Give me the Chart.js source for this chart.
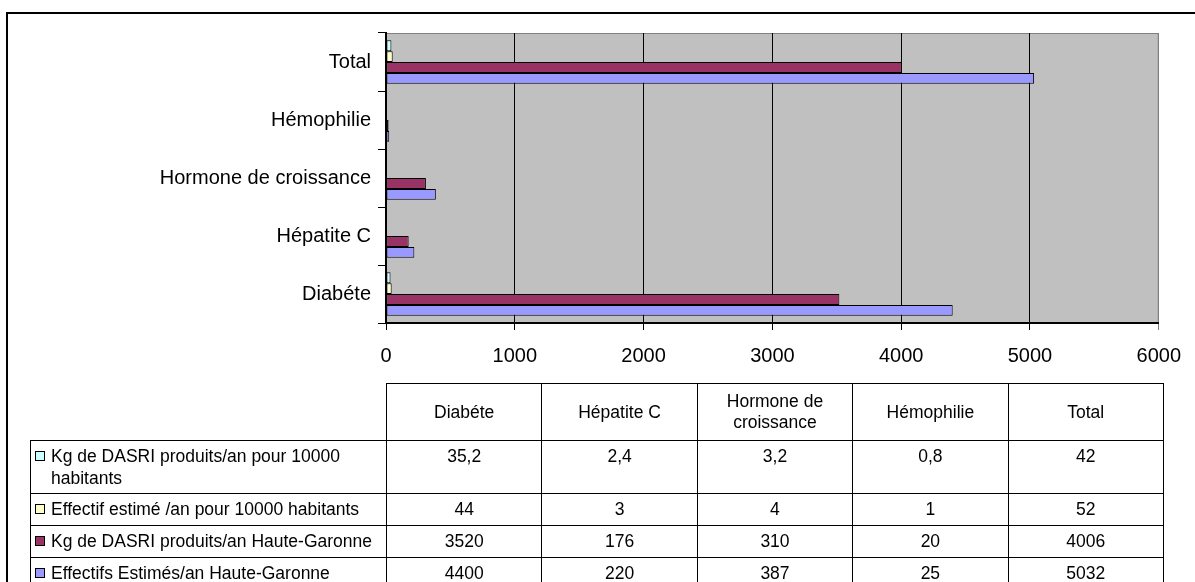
<!DOCTYPE html>
<html>
<head>
<meta charset="utf-8">
<script src="https://cdn.jsdelivr.net/npm/chart.js@4/dist/chart.umd.min.js"></script>
<style>
  html, body { margin: 0; padding: 0; background: #fff; overflow: hidden; }
  body { width: 1195px; height: 582px; position: relative; font-family: "Liberation Sans", Arial, sans-serif; }
  #frame { position: absolute; left: 6px; top: 12px; width: 1300px; height: 700px; border: 2px solid #000; box-sizing: border-box; }
  #wrap { position: absolute; left: 0; top: 0; width: 1195px; height: 582px; }
  #datatable { position: absolute; left: 30px; top: 383px; width: 1133px; border-collapse: collapse; table-layout: fixed; font-size: 17.5px; color: #000; }
  #datatable td, #datatable th { border: 1px solid #000; font-weight: normal; padding: 0; }
  #datatable th { height: 56px; text-align: center; vertical-align: middle; line-height: 21px; }
  #datatable th.blank { border: none; }
  #datatable td { text-align: center; vertical-align: top; padding-top: 4px; line-height: 22px; }
  #datatable td.name { text-align: left; position: relative; padding-left: 20px; }
  .box { position: absolute; left: 4px; top: 10px; width: 8px; height: 8px; border: 1px solid #000; }
</style>
</head>
<body>
<div id="frame"></div>
<div id="wrap"><canvas id="chart"></canvas></div>
<table id="datatable"></table>
<script>
// categories, bottom to top on the chart
const categories = ['Diabéte', 'Hépatite C', 'Hormone de croissance', 'Hémophilie', 'Total'];

const seriesNames = [
  'Kg de DASRI produits/an pour 10000 habitants',
  'Effectif estimé /an pour 10000 habitants',
  'Kg de DASRI produits/an Haute-Garonne',
  'Effectifs Estimés/an Haute-Garonne'
];
const kgPer10000 = [35.2, 2.4, 3.2, 0.8, 42];
const effectifPer10000 = [44, 3, 4, 1, 52];
const kgHauteGaronne = [3520, 176, 310, 20, 4006];
const effectifsHauteGaronne = [4400, 220, 387, 25, 5032];
const seriesColors = ['#CCFFFF', '#FFFFCC', '#993366', '#9999FF'];

const xTicks = [0, 1000, 2000, 3000, 4000, 5000, 6000];
const rowHeights = [53, 32, 32, 32];

const allSeries = [kgPer10000, effectifPer10000, kgHauteGaronne, effectifsHauteGaronne];
const fontFamily = '"Liberation Sans", Arial, sans-serif';

// grey plot area with its top/right edge
const plotBackground = {
  id: 'plotBackground',
  beforeDraw(chart) {
    const { ctx, chartArea: a } = chart;
    ctx.save();
    ctx.fillStyle = '#C0C0C0';
    ctx.fillRect(a.left, a.top, a.right - a.left, a.bottom - a.top);
    ctx.strokeStyle = '#808080';
    ctx.lineWidth = 1;
    ctx.beginPath();
    ctx.moveTo(a.left, a.top + 0.5);
    ctx.lineTo(a.right - 0.5, a.top + 0.5);
    ctx.lineTo(a.right - 0.5, a.bottom);
    ctx.stroke();
    ctx.restore();
  }
};

new Chart(document.getElementById('chart'), {
  type: 'bar',
  data: {
    labels: categories,
    datasets: allSeries.map((values, i) => ({
      label: seriesNames[i],
      data: values,
      backgroundColor: seriesColors[i],
      borderColor: '#000',
      borderWidth: 1,
      borderSkipped: false,
      categoryPercentage: 0.75,
      barPercentage: 1
    }))
  },
  options: {
    indexAxis: 'y',
    responsive: true,
    maintainAspectRatio: false,
    animation: false,
    devicePixelRatio: 1,
    layout: { padding: { top: 33, right: 32, left: 0, bottom: 0 } },
    plugins: {
      legend: { display: false },
      tooltip: { enabled: false }
    },
    scales: {
      x: {
        position: 'bottom',
        min: xTicks[0],
        max: xTicks[xTicks.length - 1],
        ticks: {
          stepSize: xTicks[1] - xTicks[0],
          callback: v => String(v),
          color: '#000',
          padding: 14,
          font: { family: fontFamily, size: 20 }
        },
        grid: {
          color: c => (c.tick && c.tick.value === xTicks[xTicks.length - 1]) ? '#808080' : '#000',
          tickLength: 7,
          lineWidth: 1
        },
        border: { color: '#000', width: 2 },
        afterFit(s) { s.height = 259; }
      },
      y: {
        reverse: true,
        ticks: {
          color: '#000',
          padding: 7,
          font: { family: fontFamily, size: 20 }
        },
        grid: { drawOnChartArea: false, tickLength: 8, color: '#000', offset: true },
        border: { color: '#000', width: 2 },
        afterFit(s) { s.width = 386; }
      }
    }
  },
  plugins: [plotBackground]
});

// data table under the chart
const fmt = v => String(v).replace('.', ',');
const table = document.getElementById('datatable');
let html = '<colgroup><col style="width:356px">' + categories.map(() => '<col style="width:155.4px">').join('') + '</colgroup>';
html += '<tr><th class="blank"></th>' + categories.map(c => '<th>' + c.replace('Hormone de croissance', 'Hormone de<br>croissance') + '</th>').join('') + '</tr>';
allSeries.forEach((values, i) => {
  html += '<tr style="height:' + rowHeights[i] + 'px"><td class="name"><span class="box" style="background:' + seriesColors[i] + '"></span>' + seriesNames[i] + '</td>';
  html += values.map(v => '<td>' + fmt(v) + '</td>').join('') + '</tr>';
});
table.innerHTML = html;
</script>
</body>
</html>
